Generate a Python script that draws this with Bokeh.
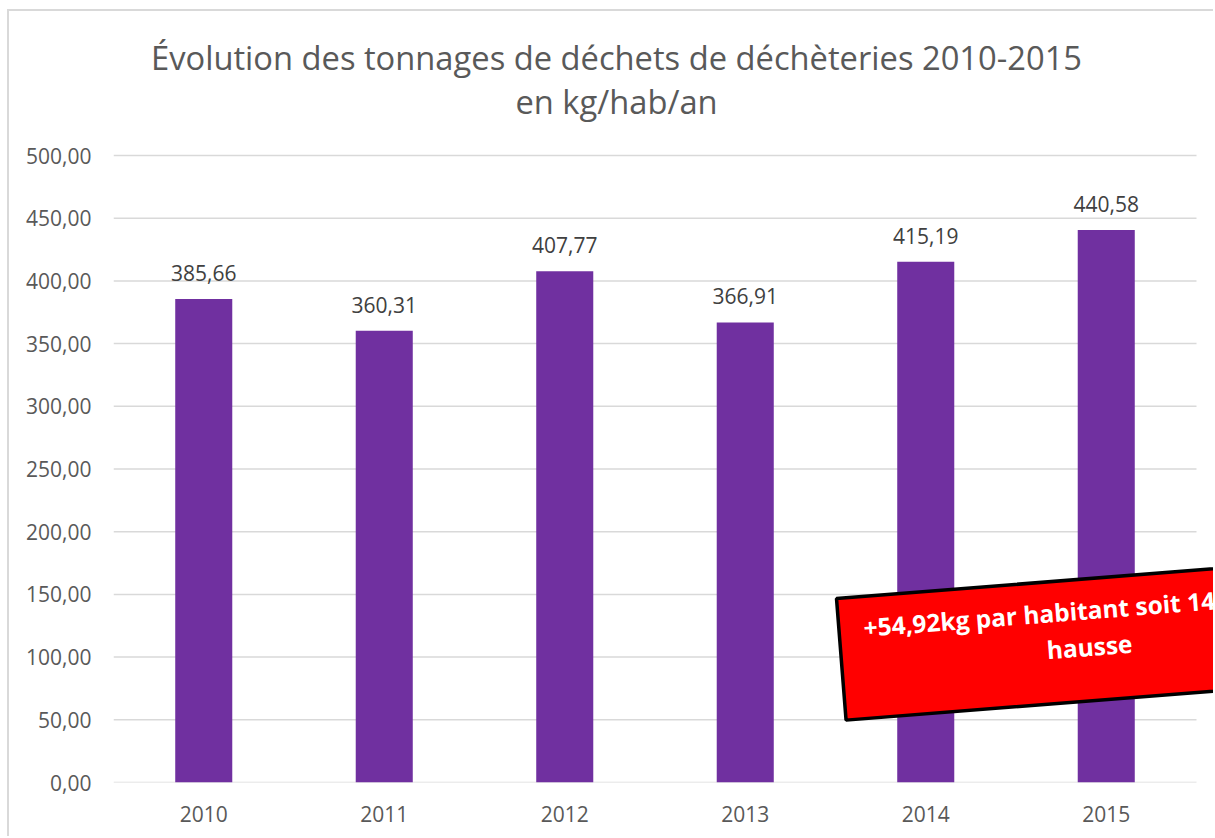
from bokeh.plotting import figure
from bokeh.models import Range1d, FixedTicker, Label, PolyAnnotation
from bokeh.core.properties import value
from bokeh.embed import file_html
from bokeh.resources import INLINE
import math

# ---------------- data ----------------
years = ["2010", "2011", "2012", "2013", "2014", "2015"]
values = [385.66, 360.31, 407.77, 366.91, 415.19, 440.58]
value_labels = ["385,66", "360,31", "407,77", "366,91", "415,19", "440,58"]
y_ticks = [0, 50, 100, 150, 200, 250, 300, 350, 400, 450, 500]
y_tick_labels = ["0,00", "50,00", "100,00", "150,00", "200,00", "250,00",
                 "300,00", "350,00", "400,00", "450,00", "500,00"]
title_line1 = "Évolution des tonnages de déchets de déchèteries 2010-2015"
title_line2 = "en kg/hab/an"
callout_line1 = "+54,92kg par habitant soit 14"
callout_line2 = "hausse"

# ---------------- layout (page pixels) ----------------
OX, OY = 9, 11                      # figure content origin on the page (margin + border)
W, H = 1215 - OX, 838 - OY
PL, PR, PT, PB = 113, 1215, OY, 782  # frame edges on the page
CAT_PX = 180.5                       # px per category
YPX = 627 / 500.0                    # px per unit
TXT_SHIFT = 9                        # baseline correction for labels

x_pos = [i + 0.5 for i in range(len(years))]
x_end = (PR - PL) / CAT_PX
y_end = (PB - PT) / YPX

FONT = "Open Sans"
GRAY = "#595959"

p = figure(x_range=Range1d(0, x_end), y_range=Range1d(0, y_end),
           width=W, height=H, output_backend="svg", toolbar_location=None,
           min_border_left=PL - OX, min_border_right=0,
           min_border_top=0, min_border_bottom=838 - PB)
p.styles = {"margin-left": "7px", "margin-top": "9px",
            "border-left": "2px solid #D9D9D9", "border-top": "2px solid #D9D9D9"}
p.outline_line_color = None
p.background_fill_color = "white"
p.border_fill_color = "white"
p.xgrid.grid_line_color = None
p.ygrid.grid_line_color = None

# horizontal gridlines at the y ticks, spanning the category area
p.segment(x0=[0] * len(y_ticks), x1=[len(years)] * len(y_ticks),
          y0=y_ticks, y1=y_ticks, line_color="#D9D9D9", line_width=1.5)

p.vbar(x=x_pos, top=values, width=0.316, fill_color="#7030A0", line_color=None)
p.text(x=x_pos, y=values, text=value_labels, y_offset=-17 - TXT_SHIFT,
       text_align="center", text_baseline="alphabetic",
       text_font=value(FONT), text_font_size="21px", text_color="#404040")

# axes
p.yaxis.ticker = FixedTicker(ticks=y_ticks)
p.yaxis.major_label_overrides = {t: s for t, s in zip(y_ticks, y_tick_labels)}
p.xaxis.ticker = FixedTicker(ticks=x_pos)
p.xaxis.major_label_overrides = {t: s for t, s in zip(x_pos, years)}
for ax in (p.xaxis[0], p.yaxis[0]):
    ax.axis_line_color = None
    ax.major_tick_line_color = None
    ax.minor_tick_line_color = None
    ax.major_tick_out = 0
    ax.major_tick_in = 0
    ax.major_label_text_font = FONT
    ax.major_label_text_font_size = "21px"
    ax.major_label_text_color = GRAY
p.yaxis.major_label_standoff = 22
p.xaxis.major_label_standoff = 23


def to_data(px, py):
    """page pixel -> data coordinates"""
    return (px - PL) / CAT_PX, (PB - py) / YPX


# title
tx, ty1 = to_data(616, 66 - TXT_SHIFT)
_, ty2 = to_data(616, 110 - TXT_SHIFT)
for t, yy in ((title_line1, ty1), (title_line2, ty2)):
    p.add_layout(Label(x=tx, y=yy, text=t, text_align="center",
                       text_baseline="alphabetic", text_font=FONT,
                       text_font_size="32.7px", text_color=GRAY))

# red callout box
ang = math.radians(4.5)
tlx, tly = 836, 598
bw, bh = 560, 122
corners_px = [
    (tlx, tly),
    (tlx + bw * math.cos(ang), tly - bw * math.sin(ang)),
    (tlx + bw * math.cos(ang) + bh * math.sin(ang), tly - bw * math.sin(ang) + bh * math.cos(ang)),
    (tlx + bh * math.sin(ang), tly + bh * math.cos(ang)),
]
cd = [to_data(a, b) for a, b in corners_px]
p.add_layout(PolyAnnotation(xs=[c[0] for c in cd], ys=[c[1] for c in cd],
                            fill_color="#FF0000", fill_alpha=1.0,
                            line_color="black", line_width=3.5, line_alpha=1.0))

c1x, c1y = to_data(863, 636 - TXT_SHIFT)
p.add_layout(Label(x=c1x, y=c1y, text=callout_line1, angle=ang,
                   text_align="left", text_baseline="alphabetic",
                   text_font=FONT, text_font_style="bold",
                   text_font_size="24.5px", text_color="white"))
c2x, c2y = to_data(1089, 655 - TXT_SHIFT)
p.add_layout(Label(x=c2x, y=c2y, text=callout_line2, angle=ang,
                   text_align="center", text_baseline="alphabetic",
                   text_font=FONT, text_font_style="bold",
                   text_font_size="24.5px", text_color="white"))

open("out.html", "w").write(file_html(p, INLINE))
